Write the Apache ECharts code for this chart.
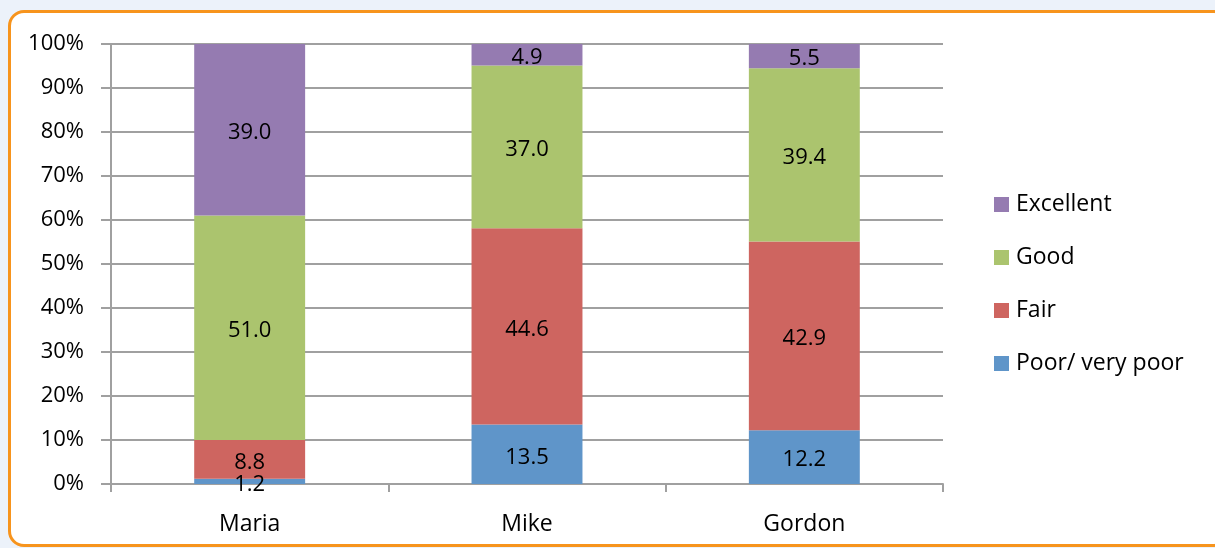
<!DOCTYPE html>
<html>
<head>
<meta charset="utf-8">
<script src="https://cdn.jsdelivr.net/npm/echarts@6/dist/echarts.min.js"></script>
<style>
  html, body { margin: 0; padding: 0; width: 1215px; height: 548px; overflow: hidden; background: #ecf2fa; }
  #frame {
    position: absolute; left: 8px; top: 10px; width: 1222px; height: 537px;
    box-sizing: border-box; border: 3px solid #f7941d; border-radius: 16px; background: #ffffff;
  }
  #chart { position: absolute; left: 0; top: 0; width: 1215px; height: 548px; }
</style>
</head>
<body>
<div id="frame"></div>
<div id="chart"></div>
<script>
// Self-rated condition by respondent (percent of responses)
const categories = ['Maria', 'Mike', 'Gordon'];
const poorValues = [1.2, 13.5, 12.2];
const fairValues = [8.8, 44.6, 42.9];
const goodValues = [51.0, 37.0, 39.4];
const excellentValues = [39.0, 4.9, 5.5];
const legendOrder = ['Excellent', 'Good', 'Fair', 'Poor/ very poor'];
const yTicks = [0, 10, 20, 30, 40, 50, 60, 70, 80, 90, 100];

const FONT = 'Open Sans';
const GRID_GREY = '#a0a0a0';

function stackSeries(name, values, color) {
  return {
    name: name,
    type: 'bar',
    stack: 'total',
    barWidth: '40%',
    data: values,
    itemStyle: { color: color },
    label: {
      show: true,
      position: 'inside',
      offset: [0, 3],
      color: '#000000',
      fontFamily: FONT,
      fontSize: 22,
      formatter: p => p.value.toFixed(1)
    }
  };
}

const chart = echarts.init(document.getElementById('chart'), null, { renderer: 'canvas' });
chart.setOption({
  backgroundColor: 'transparent',
  animation: false,
  grid: { left: 111, right: 272, top: 44, bottom: 64, containLabel: false },
  legend: {
    data: legendOrder,
    orient: 'vertical',
    left: 989,
    top: 188,
    itemWidth: 15,
    itemHeight: 15,
    itemGap: 30,
    icon: 'rect',
    textStyle: { fontFamily: FONT, fontSize: 23, color: '#000000', lineHeight: 22, padding: [0, 0, 0, 2] }
  },
  xAxis: {
    type: 'category',
    data: categories,
    axisLine: { lineStyle: { color: GRID_GREY, width: 2 } },
    axisTick: { show: true, length: 8, alignWithLabel: false, lineStyle: { color: GRID_GREY, width: 2 } },
    axisLabel: { fontFamily: FONT, fontSize: 23, color: '#000000', margin: 29 }
  },
  yAxis: {
    type: 'value',
    min: yTicks[0],
    max: yTicks[yTicks.length - 1],
    interval: 10,
    axisLine: { show: true, lineStyle: { color: GRID_GREY, width: 2 } },
    axisTick: { show: true, length: 10, lineStyle: { color: GRID_GREY, width: 2 } },
    splitLine: { show: true, lineStyle: { color: GRID_GREY, width: 2 } },
    axisLabel: { fontFamily: FONT, fontSize: 22, color: '#000000', margin: 27, formatter: v => v + '%' }
  },
  series: [
    stackSeries('Poor/ very poor', poorValues, '#5f95c9'),
    stackSeries('Fair', fairValues, '#ce6560'),
    stackSeries('Good', goodValues, '#abc46e'),
    stackSeries('Excellent', excellentValues, '#957bb1')
  ]
});
</script>
</body>
</html>
